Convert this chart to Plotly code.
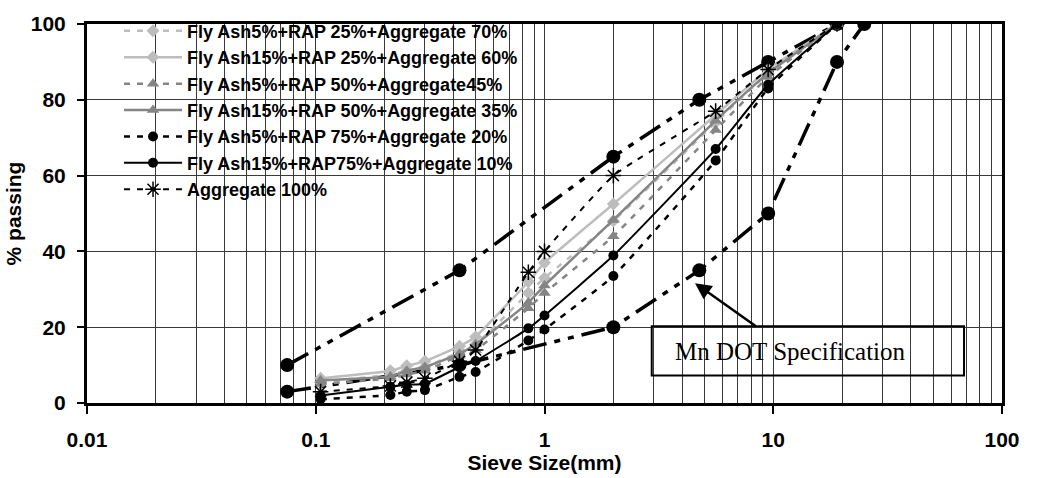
import plotly.graph_objects as go

# Sieve openings (mm) used for the mix gradations
sieve_mm = [0.105, 0.212, 0.25, 0.3, 0.425, 0.5, 0.85, 1.0, 2.0, 5.6, 9.5, 19]

# Percent passing for each blend
fa5_rap25 = [5.5, 7.5, 8.5, 9.5, 13.5, 15.5, 29, 33, 48, 74, 87, 100]
fa15_rap25 = [6.5, 8.5, 9.8, 11, 15, 17.5, 32, 37, 52.5, 76, 88, 100]
fa5_rap50 = [5, 6.5, 7.5, 8.5, 12.5, 14, 25, 29, 44, 72, 86, 100]
fa15_rap50 = [6, 7, 8.5, 9.5, 13, 15.5, 26.5, 31, 48.3, 74.5, 87, 100]
fa5_rap75 = [1, 2.1, 3, 3.4, 6.9, 8.2, 16.5, 19.4, 33.5, 64, 83, 100]
fa15_rap75 = [2, 4.3, 4.8, 5.1, 9.5, 11.1, 19.7, 23.1, 38.9, 67, 84, 100]
agg100 = [3, 4.5, 5.5, 6.5, 11, 14, 34.5, 40, 60, 77, 88, 100]

# Mn DOT specification band
spec_upper_mm = [0.075, 0.425, 2.0, 4.75, 9.5, 19]
spec_upper = [10, 35, 65, 80, 90, 100]
spec_lower_mm = [0.075, 0.425, 2.0, 4.75, 9.5, 19, 25]
spec_lower = [3, 10, 20, 35, 50, 90, 100]

x_ticks = [0.01, 0.1, 1, 10, 100]
x_tick_text = ["0.01", "0.1", "1", "10", "100"]
y_ticks = [0, 20, 40, 60, 80, 100]

LIGHT = "#bdbdbd"
MID = "#858585"
BLACK = "#000000"

fig = go.Figure()

spec_dash = "24px,8px,6px,8px,6px,8px"
for xs, ys in ((spec_upper_mm, spec_upper), (spec_lower_mm, spec_lower)):
    fig.add_trace(go.Scatter(
        x=xs, y=ys, mode="lines+markers", showlegend=False,
        line=dict(color=BLACK, width=3.5, dash=spec_dash),
        marker=dict(symbol="circle", size=14, color=BLACK),
        hoverinfo="skip"))

series = [
    ("Fly Ash5%+RAP 25%+Aggregate 70%", fa5_rap25, LIGHT, "dash", "diamond", 10, 2.5),
    ("Fly Ash15%+RAP 25%+Aggregate 60%", fa15_rap25, LIGHT, "solid", "diamond", 10, 2.5),
    ("Fly Ash5%+RAP 50%+Aggregate45%", fa5_rap50, MID, "dash", "triangle-up", 11, 2.5),
    ("Fly Ash15%+RAP 50%+Aggregate 35%", fa15_rap50, MID, "solid", "triangle-up", 11, 2.5),
    ("Fly Ash5%+RAP 75%+Aggregate 20%", fa5_rap75, BLACK, "dash", "circle", 10, 2.5),
    ("Fly Ash15%+RAP75%+Aggregate 10%", fa15_rap75, BLACK, "solid", "circle", 10, 2),
    ("Aggregate 100%", agg100, BLACK, "dash", "asterisk-open", 13, 2),
]
for name, ys, color, dash, sym, msize, lw in series:
    dash_val = "6px,7px" if dash == "dash" else "solid"
    marker = dict(symbol=sym, size=msize, color=color)
    if sym == "asterisk-open":
        marker["line"] = dict(color=color, width=1.5)
    fig.add_trace(go.Scatter(
        x=sieve_mm, y=ys, name=name, mode="lines+markers",
        line=dict(color=color, width=lw, dash=dash_val, shape="spline", smoothing=0.4),
        marker=marker))

axis_font = dict(family="Liberation Sans", size=21, color="black", weight="bold")

fig.update_xaxes(
    type="log", range=[-2, 2],
    tickvals=x_ticks, ticktext=x_tick_text,
    ticks="outside", ticklen=8, tickwidth=2, tickcolor="black",
    tickfont=axis_font, ticklabelstandoff=8,
    showline=True, linewidth=3, linecolor="black", mirror=True,
    showgrid=True, gridcolor="#3a3a3a", gridwidth=1,
    minor=dict(dtick="D1", showgrid=True, gridcolor="#3a3a3a", gridwidth=1, ticks=""),
    title=dict(text="Sieve Size(mm)", font=axis_font, standoff=0),
    zeroline=False)

fig.update_yaxes(
    range=[0, 100], tickvals=y_ticks,
    ticks="outside", ticklen=7, tickwidth=2, tickcolor="black",
    tickfont=axis_font, ticklabelstandoff=7,
    showline=True, linewidth=3, linecolor="black", mirror=True,
    showgrid=True, gridcolor="#3a3a3a", gridwidth=1,
    title=dict(text="% passing", font=axis_font, standoff=4),
    zeroline=False)

# white patch behind the legend block
fig.add_shape(type="rect", xref="paper", yref="paper",
              x0=0, x1=0.518, y0=0.518, y1=1,
              fillcolor="white", line=dict(width=0), layer="between")

# specification label box and arrow
fig.add_shape(type="rect", xref="paper", yref="paper",
              x0=0.6172, x1=0.9585, y0=0.0726, y1=0.2026,
              line=dict(color="black", width=2), fillcolor="rgba(0,0,0,0)")
fig.add_annotation(xref="paper", yref="paper", x=0.6401, y=0.136,
                   xanchor="left", yanchor="middle", showarrow=False,
                   text="Mn DOT Specification",
                   font=dict(family="Liberation Serif", size=25, color="black"))
fig.add_annotation(xref="paper", yref="paper", x=0.6645, y=0.3162,
                   ax=62, ay=44, axref="pixel", ayref="pixel",
                   text="", showarrow=True, arrowhead=2, arrowsize=1.3,
                   arrowwidth=2.5, arrowcolor="black")

fig.update_layout(
    width=1039, height=478,
    margin=dict(l=87, r=37, t=15, b=73),
    paper_bgcolor="white", plot_bgcolor="white",
    legend=dict(x=0.035, y=1.03, xanchor="left", yanchor="top",
                bgcolor="rgba(255,255,255,0)", borderwidth=0,
                font=dict(family="Liberation Sans", size=18, color="black", weight="bold"),
                itemwidth=58, tracegroupgap=0),
)

fig.write_html("out.html")
